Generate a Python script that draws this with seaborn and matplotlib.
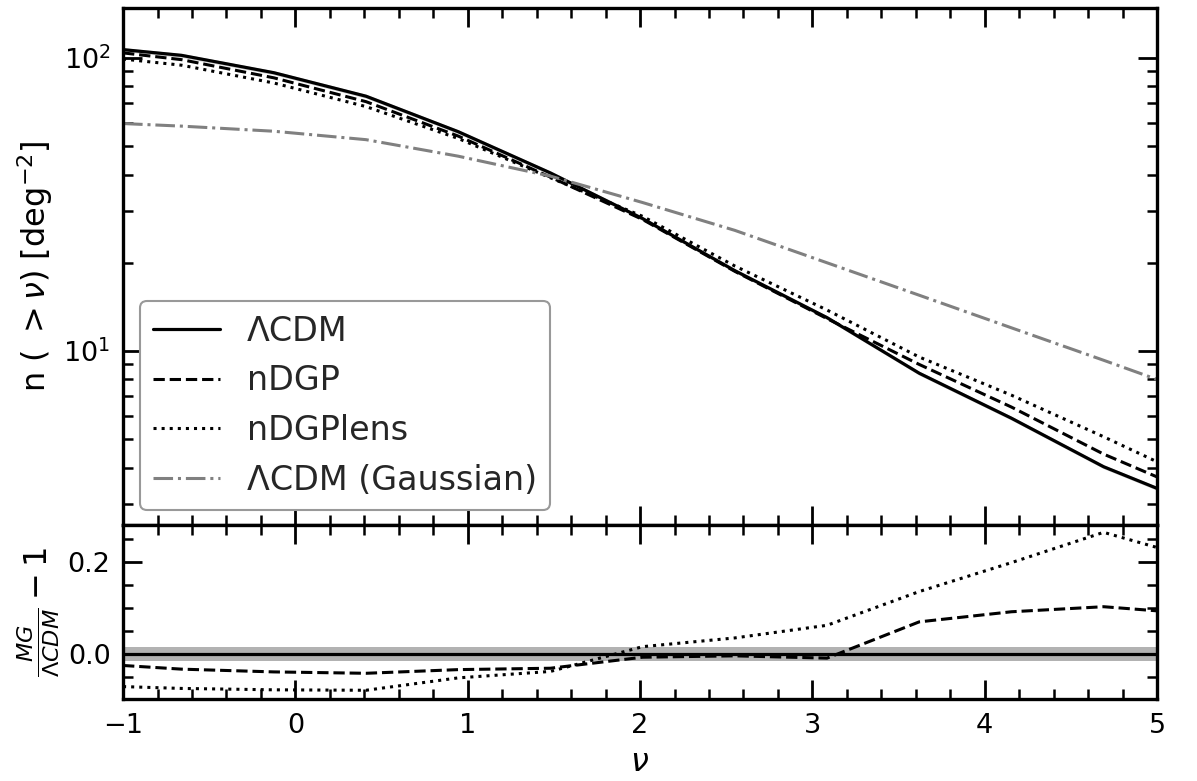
import numpy as np
import matplotlib
matplotlib.use("Agg")
import matplotlib.pyplot as plt
import seaborn as sns
from matplotlib.ticker import MultipleLocator

sns.set_style("ticks")
plt.rcParams['font.family'] = ['DejaVu Sans']
plt.rcParams['mathtext.fontset'] = 'dejavusans'
for k in ['text.color', 'axes.labelcolor', 'xtick.color', 'ytick.color', 'axes.edgecolor']:
    plt.rcParams[k] = 'black'

# peak height thresholds
nu = [-1.0, -0.66, -0.125, 0.41, 0.945, 1.48, 2.015, 2.55, 3.085, 3.62, 4.155, 4.69, 5.0]

# cumulative peak counts n(>nu) [deg^-2]
n_lcdm = [106.7, 102.0, 89.0, 74.0, 56.0, 40.5, 28.3, 18.8, 13.0, 8.4, 5.9, 4.03, 3.40]
n_ndgp = [104.0, 98.6, 85.5, 70.9, 54.1, 39.2, 28.1, 18.7, 12.9, 9.0, 6.44, 4.45, 3.72]
n_ndgplens = [99.1, 94.4, 82.1, 68.2, 53.1, 39.0, 28.8, 19.5, 13.8, 9.54, 7.07, 5.10, 4.19]
n_gauss = [59.7, 58.5, 56.2, 52.6, 46.2, 39.5, 32.1, 25.8, 20.0, 15.5, 12.0, 9.3, 8.0]

# relative difference MG/LCDM - 1
r_ndgp = [-0.025, -0.033, -0.039, -0.042, -0.034, -0.031, -0.007, -0.004, -0.009, 0.070, 0.092, 0.103, 0.094]
r_ndgplens = [-0.071, -0.075, -0.078, -0.079, -0.052, -0.038, 0.016, 0.035, 0.0625, 0.136, 0.199, 0.265, 0.232]
band = 0.015

fig = plt.figure(figsize=(11.97, 7.81), dpi=100)
ax1 = fig.add_axes([0.1028, 0.3278, 0.8638, 0.662])
ax2 = fig.add_axes([0.1028, 0.105, 0.8638, 0.2228], sharex=ax1)

lo = [v * (1 - band) for v in n_lcdm]
hi = [v * (1 + band) for v in n_lcdm]
ax1.fill_between(nu, lo, hi, color='gray', alpha=0.4, lw=0)
sns.lineplot(x=nu, y=n_lcdm, ax=ax1, color='k', lw=2.3, label='ΛCDM')
sns.lineplot(x=nu, y=n_ndgp, ax=ax1, color='k', lw=2.2, linestyle='--', label='nDGP')
sns.lineplot(x=nu, y=n_ndgplens, ax=ax1, color='k', lw=2.2, linestyle=':', label='nDGPlens')
sns.lineplot(x=nu, y=n_gauss, ax=ax1, color='gray', lw=2.2, linestyle='-.', label='ΛCDM (Gaussian)')
ax1.set_yscale('log')
ax1.set_ylim(2.55, 148)
ax1.set_xlim(-1, 5)
ax1.set_ylabel(r'n ( $>\nu$) [deg$^{-2}$]', fontsize=23)
leg = ax1.legend(loc='lower left', fontsize=24, frameon=True, fancybox=True,
                 edgecolor='#999999', framealpha=1, borderaxespad=0,
                 bbox_to_anchor=(0.0164, 0.029))
leg.get_frame().set_linewidth(1.5)
for t in leg.get_texts():
    t.set_color('#262626')

zeros = [0.0 for v in nu]
ax2.fill_between(nu, [-band] * len(nu), [band] * len(nu), color='gray', alpha=0.6, lw=0)
sns.lineplot(x=nu, y=zeros, ax=ax2, color='k', lw=2.3)
sns.lineplot(x=nu, y=r_ndgp, ax=ax2, color='k', lw=2.2, linestyle='--')
sns.lineplot(x=nu, y=r_ndgplens, ax=ax2, color='k', lw=2.2, linestyle=':')
ax2.set_ylim(-0.098, 0.281)
ax2.set_xlim(-1, 5)
ax2.set_xlabel(r'$\nu$', fontsize=23)
ax2.set_ylabel(r'$\frac{MG}{\Lambda CDM}-1$', fontsize=23)
ax2.yaxis.set_major_locator(MultipleLocator(0.2))
ax2.yaxis.set_minor_locator(MultipleLocator(0.05))
ax2.yaxis.set_major_formatter(plt.FormatStrFormatter('%.1f'))

ax1.xaxis.set_major_locator(MultipleLocator(1))
ax1.xaxis.set_minor_locator(MultipleLocator(0.2))

for ax in (ax1, ax2):
    ax.tick_params(which='both', direction='in', top=True, right=True, labelsize=19.5)
    ax.tick_params(which='major', length=14, width=2)
    ax.tick_params(which='minor', length=7, width=1.8)
    ax.tick_params(axis='x', which='major', pad=10)
    ax.tick_params(axis='y', which='major', pad=9)
    for s in ax.spines.values():
        s.set_linewidth(2.4)
ax1.tick_params(labelbottom=False)

ax1.yaxis.labelpad = 6
ax2.xaxis.labelpad = 6
fig.savefig('out.png', dpi=100)
